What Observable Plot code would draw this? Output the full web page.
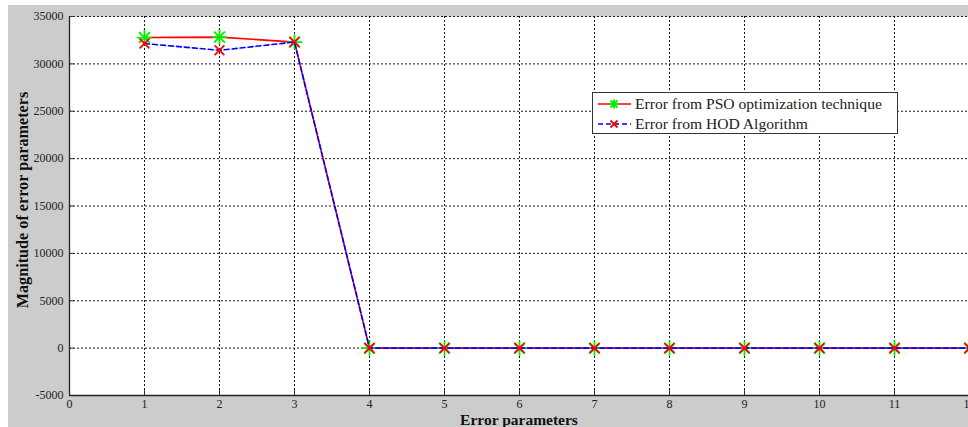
<!DOCTYPE html>
<html>
<head>
<meta charset="utf-8">
<script src="https://cdn.jsdelivr.net/npm/d3@7"></script>
<script src="https://cdn.jsdelivr.net/npm/@observablehq/plot@0.6"></script>
<style>
  html, body { margin: 0; padding: 0; background: #ffffff; }
  #wrap { position: relative; width: 968px; height: 427px; overflow: hidden; }
  #chart { position: absolute; left: 8px; top: 5px; }
  #legend { position: absolute; left: 592px; top: 92px; width: 306px; height: 42px;
            background: #fff; border: 1px solid #333; box-sizing: border-box;
            font-family: "Liberation Serif", serif; font-size: 15.6px; color: #222; }
  #legend .row { position: absolute; left: 0; height: 20px; display: flex; align-items: center; white-space: nowrap; }
  #legend svg { display: block; }
</style>
</head>
<body>
<div id="wrap">
  <div id="chart"></div>
  <div id="legend"></div>
</div>
<script>
// ---- data ----
const params = [1, 2, 3, 4, 5, 6, 7, 8, 9, 10, 11, 12];
const psoError = [32780, 32820, 32300, 0, 0, 0, 0, 0, 0, 0, 0, 0];
const hodError = [32150, 31430, 32300, 0, 0, 0, 0, 0, 0, 0, 0, 0];
const xTicks = [0, 1, 2, 3, 4, 5, 6, 7, 8, 9, 10, 11, 12];
const yTicks = [-5000, 0, 5000, 10000, 15000, 20000, 25000, 30000, 35000];
const seriesNames = ["Error from PSO optimization technique", "Error from HOD Algorithm"];

const pso = params.map((p, i) => ({x: p, y: psoError[i]}));
const hod = params.map((p, i) => ({x: p, y: hodError[i]}));

const font = "Liberation Serif, serif";
const gridDash = "2,2";

const chart = Plot.plot({
  width: 960,
  height: 422,
  marginLeft: 61,
  marginTop: 11,
  marginBottom: 32,
  marginRight: 0,
  style: {background: "#cccccc", fontFamily: font, fontSize: "12px", color: "#222", overflow: "hidden"},
  x: {domain: [0, 12], range: [61, 961]},
  y: {domain: [-5000, 35000], range: [390, 11]},
  marks: [
    Plot.frame({fill: "#ffffff", stroke: "none"}),
    Plot.gridX(xTicks.filter(d => d > 0 && d < 12), {stroke: "#000", strokeOpacity: 0.9, strokeDasharray: gridDash}),
    Plot.gridY(yTicks.filter(d => d > -5000), {stroke: "#000", strokeOpacity: 0.9, strokeDasharray: gridDash}),
    Plot.axisX(xTicks, {tickSize: -5, tickPadding: 9, stroke: "#333", fill: "#222", label: null, tickFormat: d => String(d), fontFamily: font}),
    Plot.axisY(yTicks, {tickSize: -5, tickPadding: 11, stroke: "#333", fill: "#222", label: null, tickFormat: d => String(d), fontFamily: font}),
    Plot.ruleY([-5000], {stroke: "#222", strokeWidth: 1.3}),
    Plot.ruleX([0], {stroke: "#222", strokeWidth: 1.3}),
    Plot.line(pso, {x: "x", y: "y", stroke: "#ff0000", strokeWidth: 1.6}),
    Plot.dot(pso, {x: "x", y: "y", symbol: "plus", r: 5, stroke: "#00ee00", strokeWidth: 1.8}),
    Plot.dot(pso, {x: "x", y: "y", symbol: "times", r: 5, stroke: "#00ee00", strokeWidth: 1.8}),
    Plot.line(hod, {x: "x", y: "y", stroke: "#0000ff", strokeWidth: 1.6, strokeDasharray: "5,3"}),
    Plot.dot(hod, {x: "x", y: "y", symbol: "times", r: 4.5, stroke: "#ff0000", strokeWidth: 1.8}),
    Plot.text(["Error parameters"], {frameAnchor: "bottom", dy: 29, text: d => d, fontWeight: "bold", fontSize: 15.5, fill: "#111", fontFamily: font}),
    Plot.text(["Magnitude of error parameters"], {frameAnchor: "left", dx: -47, dy: -6, rotate: -90, textAnchor: "middle", text: d => d, fontWeight: "bold", fontSize: 16.2, fill: "#111", fontFamily: font})
  ]
});
document.getElementById("chart").appendChild(chart);

// ---- legend ----
const legend = document.getElementById("legend");
const legendStyles = [
  {line: "#ff0000", dash: null, marker: "star", mcolor: "#00ee00"},
  {line: "#0000ff", dash: "5,3", marker: "x", mcolor: "#ff0000"}
];
seriesNames.forEach((name, i) => {
  const s = legendStyles[i];
  const row = document.createElement("div");
  row.className = "row";
  row.style.top = (i === 0 ? 1 : 21) + "px";
  const ns = "http://www.w3.org/2000/svg";
  const svg = document.createElementNS(ns, "svg");
  svg.setAttribute("width", 42); svg.setAttribute("height", 20);
  const ln = document.createElementNS(ns, "line");
  ln.setAttribute("x1", 5); ln.setAttribute("x2", 38); ln.setAttribute("y1", 10); ln.setAttribute("y2", 10);
  ln.setAttribute("stroke", s.line); ln.setAttribute("stroke-width", 1.6);
  if (s.dash) ln.setAttribute("stroke-dasharray", s.dash);
  svg.appendChild(ln);
  const m = document.createElementNS(ns, "path");
  const c = 21, r = 3.5;
  let d = `M${c-r},${10-r}L${c+r},${10+r}M${c-r},${10+r}L${c+r},${10-r}`;
  if (s.marker === "star") d += `M${c},${10-r-1}L${c},${10+r+1}M${c-r-1},10L${c+r+1},10`;
  m.setAttribute("d", d); m.setAttribute("stroke", s.mcolor); m.setAttribute("stroke-width", 1.8); m.setAttribute("fill", "none");
  svg.appendChild(m);
  row.appendChild(svg);
  const t = document.createElement("span");
  t.textContent = name;
  row.appendChild(t);
  legend.appendChild(row);
});
</script>
</body>
</html>
